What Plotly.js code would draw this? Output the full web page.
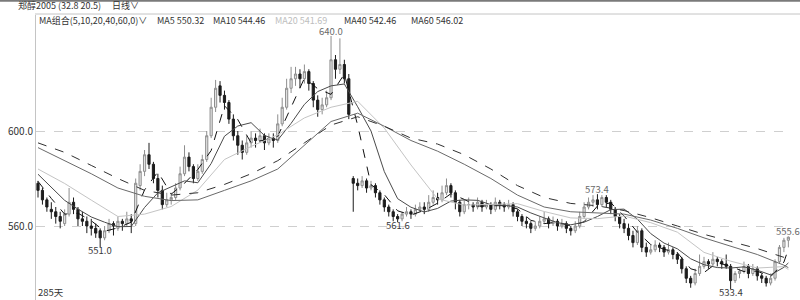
<!DOCTYPE html>
<html>
<head>
<meta charset="utf-8">
<script src="https://cdn.plot.ly/plotly-3.0.1.min.js"></script>
<style>
  html, body { margin: 0; padding: 0; background: #fff; }
  #chart { width: 800px; height: 300px; }
</style>
</head>
<body>
<div id="chart"></div>
<script>
// Daily candles (oldest first)
const openP = [
  578,575,571,567,566,564,561,565,570,567,
  563,562,560,559,558,555,558,561,559,562,
  561,563,561,577,583,590,586,580,575,569,
  571,572,576,582,589,585,580,583,588,598,
  610,619,615,612,605,598,594,591,595,597,
  596,598,595,597,596,603,610,618,622,624,
  622,625,620,613,609,611,614,630,626,628,
  622,580,578,577,579,576,577,574,571,568,
  566,564,563,565,566,565,567,568,567,570,
  572,571,574,577,574,570,566,569,569,568,
  570,568,569,567,570,569,568,569,566,564,
  562,561,559,560,562,563,561,562,560,561,
  559,558,560,564,568,570,571,569,572,570,
  567,564,561,559,556,553,558,551,549,550,
  552,551,549,550,548,546,542,538,536,540,
  543,545,544,546,545,544,543,537,540,541,
  543,540,542,539,538,536,538,545,551,554
];
const highP = [
  579,576,572,570,568,566,567,576,572,568,
  566,564,563,561,559,560,563,562,564,563,
  566,565,580,586,592,595,587,582,577,574,
  574,578,585,594,591,586,586,590,600,614,
  621.5,621,617,613,607,600,596,598,600,599,
  601,599,599,599,607,614,622,627,627,626,
  628,626,621,615,614,617,640,632,639,630,
  624,581,580,581,580,579,578,575,572,569,
  567,565,566,568,567,569,570,570,573,575,
  574,577,580,578,575,571,571,572,570,572,
  571,571,570,572,571,570,571,570,567,565,
  564,562,562,564,566,564,564,563,563,562,
  560,562,566,570,572,573,573.4,573,573,571,
  568,565,563,561,558,560,559,553,552,554,
  553,552,553,551,549,547,543,539,542,548,
  547,546,549,547,546,548,544,541,542,545,
  544,544,543,540,539,540,546,552,555,555.6
];
const lowP = [
  572,569,566,563,561,559,560,564,565,560,
  560,557,556,555,551,554,557,556,558,558,
  560,557,560,575,581,584,578,572,567,568,
  569,571,575,581,583,578,579,582,587,597,
  608,612,609,603,596,590,588,590,593,593,
  595,592,594,593,595,602,609,616,619,618,
  620,617,610,606,607,610,613,622,624,620,
  605,566,575,576,574,575,572,569,566,564,
  562,561.6,562,564,563,564,566,565,566,569,
  569,570,573,572,567,564,565,567,566,567,
  566,567,565,566,567,566,567,564,562,560,
  559,557,558,559,561,559,560,558,559,557,
  556,557,559,563,567,568,567,568,568,565,
  562,559,557,554,551,552,549,547,548,549,
  549,547,548,546,544,540,536,534,535,539,
  542,542,543,543,542,542,533.4,536,538,540,
  538,539,537,536,534.5,535,537,544,549,551
];
const closeP = [
  575,571,568,566,564,562,565,570,567,563,
  562,560,559,557,555,558,561,560,562,561,
  563,562,578,583,590,586,580,575,569,571,
  572,576,582,589,585,580,583,588,598,610,
  618,615,612,605,598,594,591,595,597,596,
  598,595,597,596,603,610,618,622,624,622,
  625,620,613,609,611,614,630,626,628,622,
  607,578,577,579,576,577,574,571,568,566,
  564,563,565,566,565,567,568,567,570,572,
  571,574,577,574,570,566,569,569,568,570,
  568,569,567,570,569,568,569,566,564,562,
  561,559,560,562,563,561,562,560,561,559,
  558,560,564,568,570,571,569,572,570,567,
  564,561,559,556,553,558,551,549,550,552,
  551,549,550,548,546,542,538,536,540,543,
  545,544,546,545,544,543,537,540,541,543,
  540,542,539,538,536,538,545,551,554,555.3
];

// Moving averages, sampled along the bar index
const fastIdx = [0,3,6,9,12,15,18,21,24,27,30,33,36,39,42,45,48,51,54,57,60,63,66,69,72,75,78,81,84,87,
                 90,93,96,99,102,105,108,111,114,117,120,123,126,129,132,135,138,141,144,147,150,153,156,159,162,165,168,169];
const ma5 = [578.8,571.6,565,565.4,562.2,557.8,559.2,561.6,575.2,582.8,573.4,578,583.8,591.8,610.6,604.8,595,596.2,597.8,609.8,
             622.2,617.8,615.4,624,602.4,577.4,573.2,566.4,564.6,566.6,569.6,573.6,571.2,568.4,568.4,568.6,567.2,562.4,561,561.6,
             560,561.8,568.4,569.8,564.2,557.4,552.2,550.2,548.8,542,540.4,544.6,543,540.8,541,538.6,544.8,550.32];
const ma10 = [581.8,576.4,570.8,567.1,563.8,561.6,559.7,559.8,567.8,574,576.6,579,578.2,586.3,597.8,602.1,603.5,598.1,596.2,603.2,
              611.2,616.6,619,619.8,610.2,600,582.9,571.5,567.9,565.9,567.4,570.5,571,570.8,569,568.7,568,565.5,563.4,561.4,
              560.5,561.6,564,566.9,567.1,562.9,556.8,552.8,550.4,546.2,543.7,542.5,542.3,542.8,541.4,539.4,542.6,544.46];
const slowIdx = [0,6,12,18,24,30,36,42,48,54,60,66,72,78,84,90,96,102,108,114,120,126,132,138,144,150,156,162,168,169];
const ma20 = [584,577.9,570.9,564,565,568.2,575.1,588,593.5,598.4,605.5,610,612.5,601.2,585.7,571.4,568.8,569.2,569.4,566.1,
              563.4,563.1,564.2,561.4,557.4,548.9,545.2,542.3,542.9,541.69];
const ma40 = [593,587.5,582,576,572.5,570.7,571,575,579,584,594,604,607.5,602,596,591.5,586,580,573,568,
              566,565.5,565,562.5,559,555,551.5,548,543.5,542.46];
const ma60 = [595,591,585.5,580,575,573,574,577.5,582,587.5,595,602.5,606,602,597,594.5,590,584,577,572,
              569.5,568.5,566.5,563.5,560,556.5,553.5,550.5,546.8,546.02];

const maNames = ['MA5', 'MA10', 'MA20', 'MA40', 'MA60'];
const yTicks = [560, 600];
const daysLabel = '285天';
const titleText = '郑醇2005 (32.8 20.5)';
const periodText = '日线∨';
const comboText = 'MA组合(5,10,20,40,60,0)∨';

// Bars whose high / low gets a price tag
const highMarks = [66, 126, 169];
const lowMarks = [14, 81, 156];

// ---------- drawing ----------
const W = 800, H = 300;
const M = { l: 36, r: 8, t: 15, b: 0 };
const plotW = W - M.l - M.r, plotH = H - M.t - M.b;
const px = x => (x - M.l) / plotW;
const py = y => (H - M.b - y) / plotH;
const FONT = '"Noto Sans CJK SC", "Noto Sans", sans-serif';

const idx = closeP.map((_, i) => i);

const candles = {
  type: 'candlestick',
  x: idx, open: openP, high: highP, low: lowP, close: closeP,
  whiskerwidth: 0,
  increasing: { line: { color: '#8e8e8e', width: 1 }, fillcolor: '#e4e4e4' },
  decreasing: { line: { color: '#1c1c1c', width: 1 }, fillcolor: '#1c1c1c' },
  hoverinfo: 'skip'
};

const maStyles = [
  { color: '#111111', dash: 'dash' },
  { color: '#4a4a4a', dash: 'solid' },
  { color: '#c4c4c4', dash: 'solid' },
  { color: '#6a6a6a', dash: 'solid' },
  { color: '#303030', dash: 'dash' }
];
const maData = [[fastIdx, ma5], [fastIdx, ma10], [slowIdx, ma20], [slowIdx, ma40], [slowIdx, ma60]];
const maTraces = maData.map((d, k) => ({
  type: 'scatter', mode: 'lines', x: d[0], y: d[1], name: maNames[k],
  line: { color: maStyles[k].color, width: 1, dash: maStyles[k].dash },
  hoverinfo: 'skip'
}));

const annotations = [];
function txt(text, x, y, opts = {}) {
  annotations.push(Object.assign({
    text, xref: 'paper', yref: 'paper', x: px(x), y: py(y),
    xanchor: 'left', yanchor: 'middle', showarrow: false, borderpad: 0,
    font: { family: FONT, size: 9, color: '#333' }
  }, opts));
}
txt(titleText, 17, 6);
txt(periodText, 111, 6);
txt(comboText, 38, 20.5);

const maLast = [ma5, ma10, ma20, ma40, ma60].map(a => a[a.length - 1]);
const maLegendX = [156, 212, 274, 343, 410];
maNames.forEach((n, k) => {
  txt(n + ' ' + maLast[k].toFixed(2), maLegendX[k], 20.5,
      { font: { family: FONT, size: 9, color: k === 2 ? '#bdbdbd' : '#333' } });
});
txt(daysLabel, 37, 292, { font: { family: FONT, size: 9.5, color: '#333' } });

highMarks.forEach(i => annotations.push({
  text: highP[i].toFixed(1), x: i, y: highP[i], xref: 'x', yref: 'y',
  xanchor: 'center', yanchor: 'bottom', yshift: -3, showarrow: false, borderpad: 0,
  font: { family: FONT, size: 9.5, color: '#6a6a6a' }
}));
lowMarks.forEach(i => annotations.push({
  text: lowP[i].toFixed(1), x: i, y: lowP[i], xref: 'x', yref: 'y',
  xanchor: 'center', yanchor: 'top', yshift: 5, showarrow: false, borderpad: 0,
  font: { family: FONT, size: 9.5, color: '#3a3a3a' }
}));

const shapes = [
  { type: 'line', xref: 'paper', yref: 'paper', x0: px(0), x1: px(W), y0: py(0.8), y1: py(0.8),
    line: { color: '#7a7a7a', width: 2 } },
  { type: 'line', xref: 'paper', yref: 'paper', x0: px(35), x1: px(W), y0: py(14), y1: py(14),
    line: { color: '#c4c4c4', width: 1 } }
];

const layout = {
  width: W, height: H, margin: M,
  paper_bgcolor: '#ffffff', plot_bgcolor: '#ffffff',
  showlegend: false,
  font: { family: FONT, size: 10, color: '#333' },
  xaxis: {
    range: [-0.45, 169.82], showgrid: false, zeroline: false, showticklabels: false,
    ticks: '', showline: false, rangeslider: { visible: false }, fixedrange: true
  },
  yaxis: {
    range: [528.84, 648.84], tickvals: yTicks, ticktext: yTicks.map(v => v.toFixed(1)),
    tickfont: { family: FONT, size: 10, color: '#333' },
    showgrid: true, gridcolor: '#cfcfcf', griddash: 'dash', gridwidth: 1,
    showline: true, linecolor: '#c4c4c4', linewidth: 1,
    zeroline: false, ticks: '', fixedrange: true
  },
  shapes, annotations
};

Plotly.newPlot('chart', [candles, ...maTraces], layout, { staticPlot: true, displayModeBar: false });
</script>
</body>
</html>
